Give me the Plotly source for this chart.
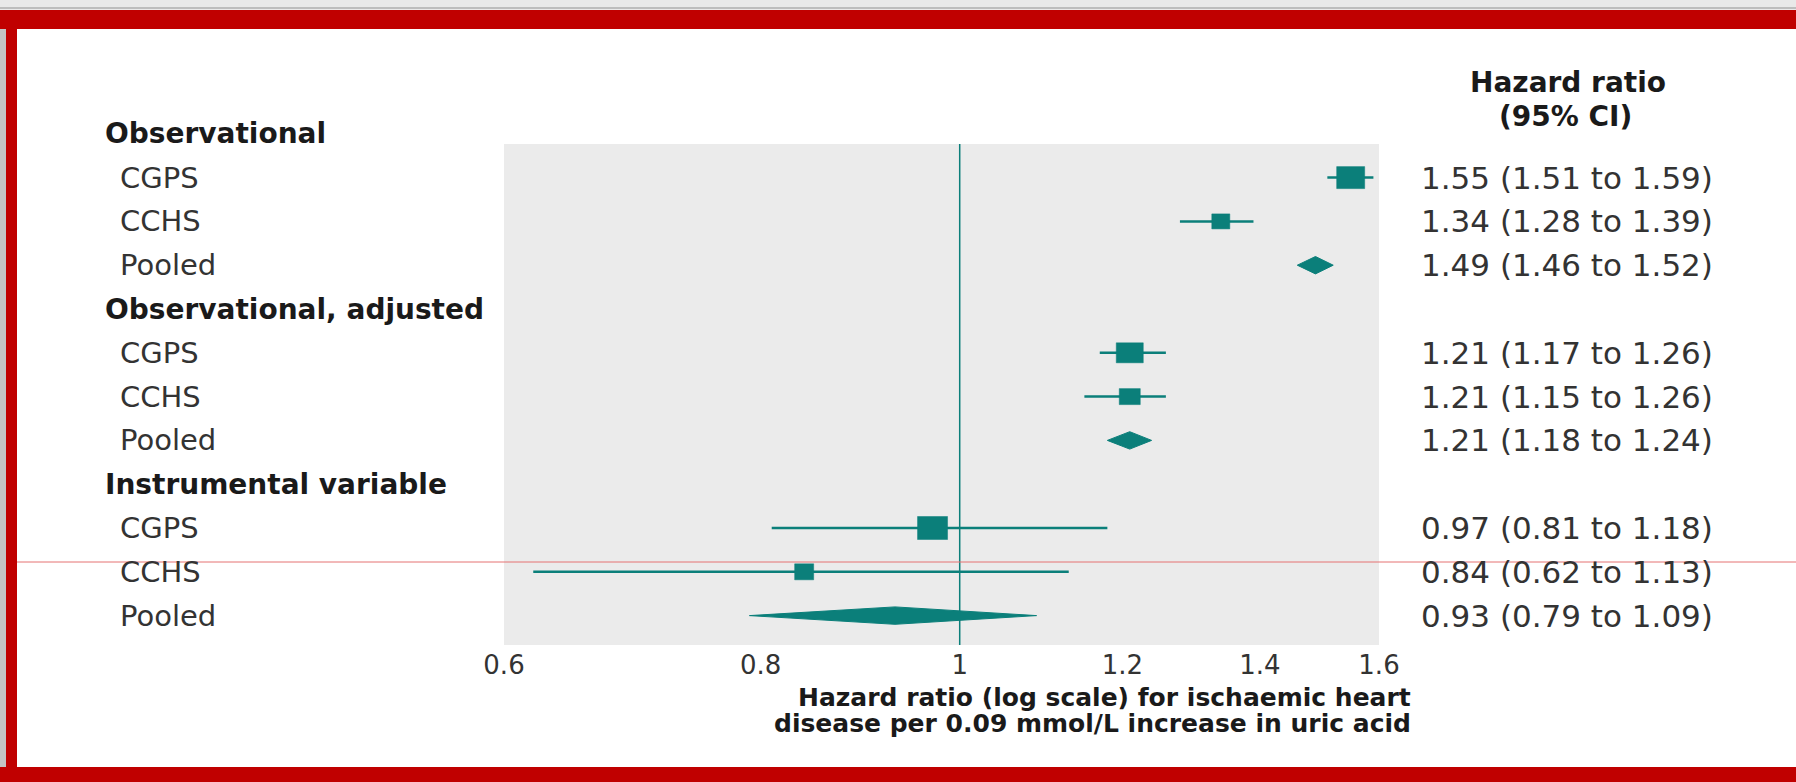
import math
import plotly.graph_objects as go

# ---------------- data ----------------
group_names = ["Observational", "Observational, adjusted", "Instrumental variable"]
study_names = ["CGPS", "CCHS", "Pooled"]
hr = [1.55, 1.34, 1.49, 1.21, 1.21, 1.21, 0.97, 0.84, 0.93]
ci_low = [1.51, 1.28, 1.46, 1.17, 1.15, 1.18, 0.81, 0.62, 0.79]
ci_high = [1.59, 1.39, 1.52, 1.26, 1.26, 1.24, 1.18, 1.13, 1.09]
tick_values = [0.6, 0.8, 1, 1.2, 1.4, 1.6]
tick_labels = ["0.6", "0.8", "1", "1.2", "1.4", "1.6"]
x_title_lines = ["Hazard ratio (log scale) for ischaemic heart",
                 "disease per 0.09 mmol/L increase in uric acid"]
col_header = ["Hazard ratio", "(95% CI)"]

# ---------------- style / layout ----------------
W, H = 1796, 782
PL, PR, PT, PB = 504, 1379, 144, 645      # plot area in px
ROW0, ROWH = 133.8, 43.8                  # px of row 0 and row spacing
TEAL = "#0b7f7a"
GRAYBG = "#ebebeb"
RED = "#c00000"
FONT = "DejaVu Sans"
# box (w, h) px for study estimates (square size reflects weight)
box_px = {0: (28, 22), 1: (18, 15), 3: (27, 20), 4: (21, 16), 6: (30, 23), 7: (19, 16)}
diamond_half_px = 8.7

XMIN, XMAX = 0.6, 1.6
px_per_log10 = (PR - PL) / (math.log10(XMAX) - math.log10(XMIN))
y_top = (PT - ROW0) / ROWH
y_bot = (PB - ROW0) / ROWH


def px_x(px):
    return (px - PL) / (PR - PL)


def px_y(py):
    return (PB - py) / (PB - PT)


def row_y(row):
    return px_y(ROW0 + ROWH * row)


fig = go.Figure()

rows = []
labels = []
r = 0
for g in group_names:
    labels.append((r, g, True))
    r += 1
    for s in study_names:
        labels.append((r, s, False))
        rows.append(r)
        r += 1

# reference line at HR = 1
fig.add_trace(go.Scatter(x=[1, 1], y=[y_top, y_bot], mode="lines",
                         line=dict(color=TEAL, width=1.5), hoverinfo="skip",
                         showlegend=False))

for i, (est, lo, hi) in enumerate(zip(hr, ci_low, ci_high)):
    row = rows[i]
    if study_names[i % 3] == "Pooled":
        dh = diamond_half_px / ROWH
        fig.add_trace(go.Scatter(x=[lo, est, hi, est, lo], y=[row, row - dh, row, row + dh, row],
                                 mode="lines", fill="toself", fillcolor=TEAL,
                                 line=dict(color=TEAL, width=1), showlegend=False,
                                 hoverinfo="skip"))
    else:
        fig.add_trace(go.Scatter(x=[lo, hi], y=[row, row], mode="lines",
                                 line=dict(color=TEAL, width=2.5), showlegend=False,
                                 hoverinfo="skip"))
        bw, bh = box_px[i]
        f = 10 ** (bw / 2 / px_per_log10)
        dh = bh / 2 / ROWH
        x0, x1 = est / f, est * f
        fig.add_trace(go.Scatter(x=[x0, x1, x1, x0, x0], y=[row - dh, row - dh, row + dh, row + dh, row - dh],
                                 mode="lines", fill="toself", fillcolor=TEAL,
                                 line=dict(color=TEAL, width=0.5), showlegend=False,
                                 hoverinfo="skip"))

annotations = []
for row, text, bold in labels:
    annotations.append(dict(
        x=px_x(103 if bold else 118), xref="paper", y=row_y(row), yref="paper",
        text=f"<b>{text}</b>" if bold else text, showarrow=False,
        xanchor="left", yanchor="middle",
        font=dict(family=FONT, size=28 if bold else 29, color="#1a1a1a" if bold else "#333333")))

for i, (est, lo, hi) in enumerate(zip(hr, ci_low, ci_high)):
    annotations.append(dict(
        x=px_x(1419), xref="paper", y=row_y(rows[i]), yref="paper",
        text=f"{est:.2f} ({lo:.2f} to {hi:.2f})", showarrow=False,
        xanchor="left", yanchor="middle",
        font=dict(family=FONT, size=31, color="#333333")))

for txt, cx, cy in zip(col_header, [1568, 1565], [83, 116]):
    annotations.append(dict(
        x=px_x(cx), xref="paper", y=px_y(cy), yref="paper",
        text=f"<b>{txt}</b>", showarrow=False, xanchor="center", yanchor="middle",
        font=dict(family=FONT, size=28, color="#1a1a1a")))

for txt, cy in zip(x_title_lines, [697, 723]):
    annotations.append(dict(
        x=px_x(1413), xref="paper", y=px_y(cy), yref="paper",
        text=f"<b>{txt}</b>", showarrow=False, xanchor="right", yanchor="middle",
        font=dict(family=FONT, size=25, color="#1a1a1a")))

shapes = [
    dict(type="rect", xref="paper", yref="paper", x0=px_x(0), x1=px_x(W), y0=px_y(0), y1=px_y(10),
         fillcolor="#e9e9e9", line=dict(width=0), layer="below"),
    dict(type="line", xref="paper", yref="paper", x0=px_x(0), x1=px_x(W), y0=px_y(8), y1=px_y(8),
         line=dict(color="#bdbdbd", width=2), layer="below"),
    dict(type="rect", xref="paper", yref="paper", x0=px_x(0), x1=px_x(6), y0=px_y(10), y1=px_y(H),
         fillcolor="#c4c4c4", line=dict(width=0), layer="below"),
    dict(type="rect", xref="paper", yref="paper", x0=px_x(0), x1=px_x(W), y0=px_y(10), y1=px_y(29),
         fillcolor=RED, line=dict(width=0), layer="below"),
    dict(type="rect", xref="paper", yref="paper", x0=px_x(6), x1=px_x(17), y0=px_y(10), y1=px_y(H),
         fillcolor=RED, line=dict(width=0), layer="below"),
    dict(type="rect", xref="paper", yref="paper", x0=px_x(0), x1=px_x(W), y0=px_y(767), y1=px_y(H),
         fillcolor=RED, line=dict(width=0), layer="below"),
    dict(type="line", xref="paper", yref="paper", x0=px_x(17), x1=px_x(W), y0=px_y(562), y1=px_y(562),
         line=dict(color="#e57373", width=1), layer="above"),
]

fig.update_layout(
    width=W, height=H, autosize=False,
    margin=dict(l=PL, r=W - PR, t=PT, b=H - PB, pad=0),
    paper_bgcolor="white", plot_bgcolor=GRAYBG,
    showlegend=False,
    annotations=annotations, shapes=shapes,
    xaxis=dict(type="log", range=[math.log10(XMIN), math.log10(XMAX)],
               tickvals=tick_values, ticktext=tick_labels,
               showgrid=False, zeroline=False, showline=False, ticks="",
               tickfont=dict(family=FONT, size=26, color="#333333"),
               ticklabelstandoff=2, fixedrange=True),
    yaxis=dict(range=[y_bot, y_top], showgrid=False, zeroline=False, showline=False,
               showticklabels=False, ticks="", fixedrange=True),
)

fig.write_html("out.html", config={"displayModeBar": False},
               post_script="document.body.style.margin='0';document.body.style.overflow='hidden';")
